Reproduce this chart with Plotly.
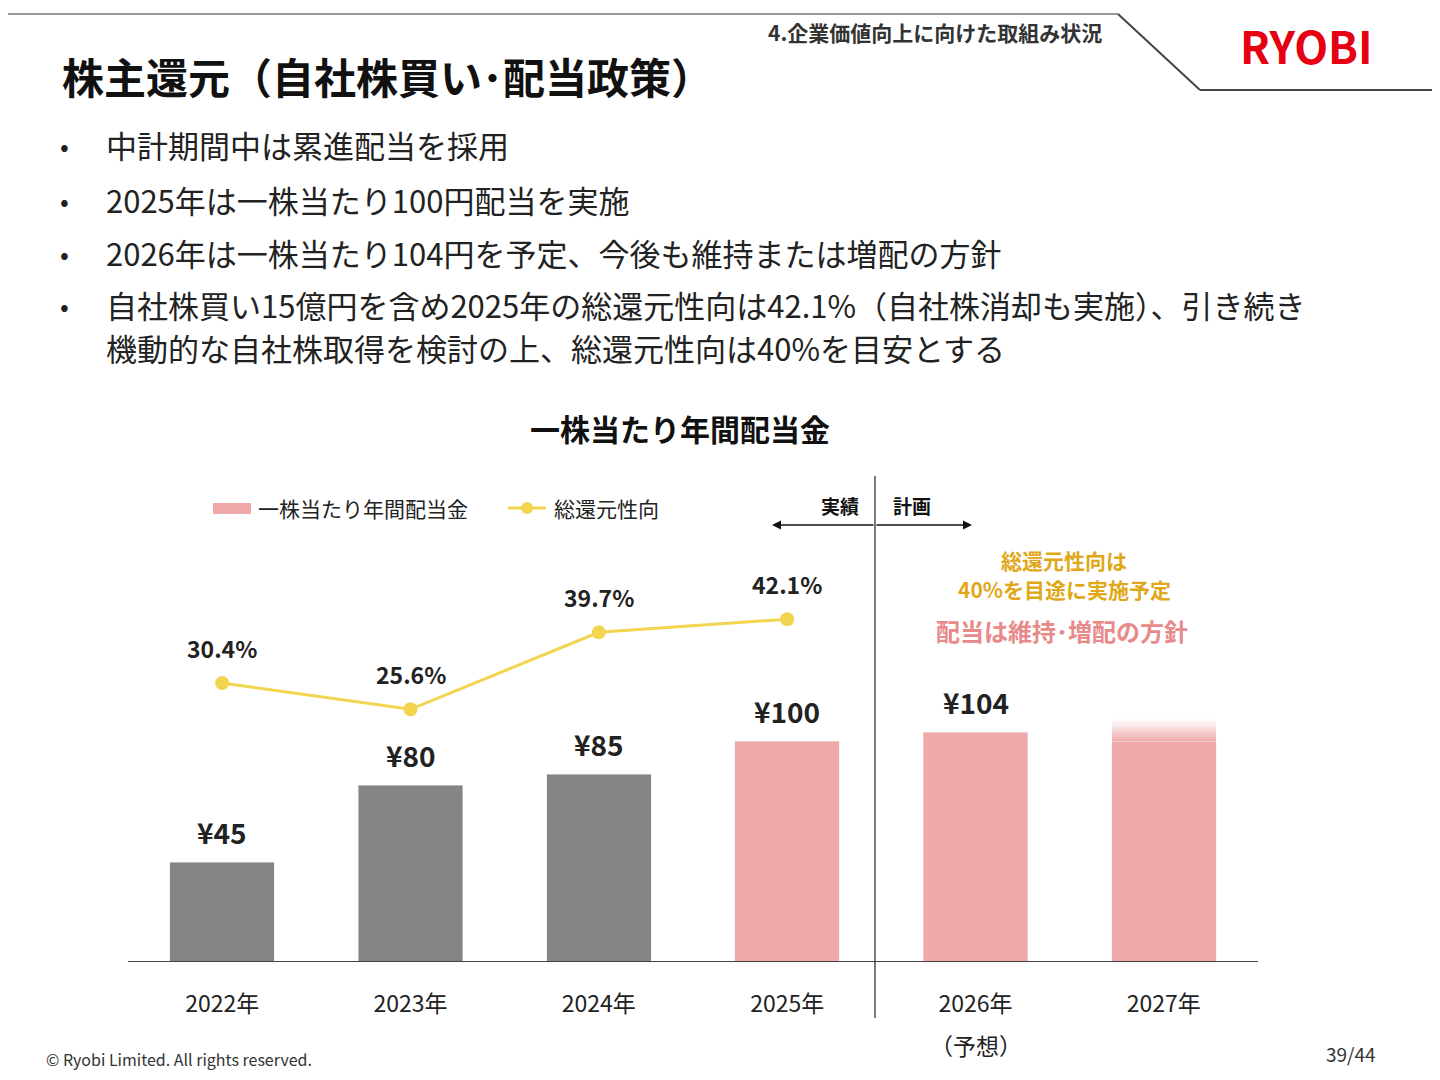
import plotly.graph_objects as go

years = ["2022年", "2023年", "2024年", "2025年", "2026年", "2027年"]
dividend = [45, 80, 85, 100, 104, None]
div_labels = ["¥45", "¥80", "¥85", "¥100", "¥104", ""]
payout_years = ["2022年", "2023年", "2024年", "2025年"]
payout = [30.4, 25.6, 39.7, 42.1]
fade_base = 100          # 2027 placeholder bar (solid part)
fade_steps = [1, 1, 1, 1, 1, 1, 1, 1, 1, 1]
fade_alpha = [0.9, 0.8, 0.7, 0.6, 0.5, 0.4, 0.3, 0.2, 0.12, 0.06]

GRAY = "#858585"
PINK = "#F0A8A8"
YEL = "#F2D44E"
FONT = "Noto Sans CJK JP"

OFF = 8
L, R, T, B = 128 - OFF, 1258 - OFF, 480 - OFF, 961 - OFF
W, H = R - L, B - T
def px(x): return (x - OFF - L) / W
def py(y): return (B - (y - OFF)) / H

fig = go.Figure()
colors = [GRAY, GRAY, GRAY, PINK, PINK, PINK]
fig.add_bar(x=years[:5], y=dividend[:5], marker_color=colors[:5], width=0.555, showlegend=False)
fig.add_bar(x=[years[5]], y=[fade_base], marker_color=PINK, width=0.555, showlegend=False)
for s, a in zip(fade_steps, fade_alpha):
    fig.add_bar(x=[years[5]], y=[s], marker_color=f"rgba(240,168,168,{a})", width=0.555,
                showlegend=False, marker_line_width=0)
fig.add_scatter(x=payout_years, y=payout, yaxis="y2", mode="lines+markers",
                line=dict(color=YEL, width=3), marker=dict(size=14, color=YEL), showlegend=False)

ann = []
for x, v, t in zip(years, dividend, div_labels):
    if v:
        ann.append(dict(x=x, y=v, text=f"<b>{t}</b>", showarrow=False, yshift=30,
                        font=dict(size=28, color="#222")))
for x, v in zip(payout_years, payout):
    ann.append(dict(x=x, y=v, yref="y2", text=f"<b>{v}%</b>", showarrow=False, yshift=35,
                    font=dict(size=23, color="#222")))

def A(x, y, text, size, color="#222", xanchor="center", bold=False):
    ann.append(dict(xref="paper", yref="paper", x=px(x), y=py(y), text=f"<b>{text}</b>" if bold else text,
                    showarrow=False, xanchor=xanchor, yanchor="middle", font=dict(size=size, color=color)))

A(60, 75, "株主還元（自社株買い･配当政策）", 42, "#111", "left", True)
A(935, 32, "4.企業価値向上に向けた取組み状況", 21, "#333", "center", True)
A(1306, 45, "RYOBI", 44, "#E60012", "center", True)
bul = [(145, "中計期間中は累進配当を採用"), (199, "2025年は一株当たり100円配当を実施"),
       (252, "2026年は一株当たり104円を予定、今後も維持または増配の方針"),
       (304, "自社株買い15億円を含め2025年の総還元性向は42.1%（自社株消却も実施）、引き続き")]
for y, t in bul:
    A(58, y, "•", 26, "#222", "left")
    A(104, y, t, 31, "#222", "left")
A(104, 347, "機動的な自社株取得を検討の上、総還元性向は40%を目安とする", 31, "#222", "left")
A(680, 428, "一株当たり年間配当金", 30, "#111", "center", True)
A(256, 508, "一株当たり年間配当金", 21, "#222", "left")
A(552, 508, "総還元性向", 21, "#222", "left")
A(840, 505, "実績", 19, "#111", "center", True)
A(912, 505, "計画", 19, "#111", "center", True)
A(1064, 560, "総還元性向は", 21, "#E0A818", "center", True)
A(1064, 589, "40%を目途に実施予定", 21, "#E0A818", "center", True)
A(1062, 630, "配当は維持･増配の方針", 24, "#E88A8A", "center", True)
A(976, 1045, "（予想）", 23, "#222", "center")
A(44, 1059, "© Ryobi Limited. All rights reserved.", 16, "#333", "left")
A(1378, 1053, "39/44", 19, "#333", "right")

for tip in [772, 972]:
    ann.append(dict(xref="paper", yref="paper", axref="pixel", ayref="pixel",
                    x=px(tip), y=py(525), ax=875 - tip, ay=0, showarrow=True,
                    arrowhead=2, arrowsize=1.2, arrowwidth=1.5, arrowcolor="#111", text=""))

shapes = [
    dict(type="line", xref="paper", yref="paper", x0=px(875), x1=px(875), y0=py(476), y1=py(1018),
         line=dict(color="#222", width=1.2)),
    dict(type="line", xref="paper", yref="paper", x0=px(0), x1=px(1118), y0=py(14), y1=py(14),
         line=dict(color="#999", width=2)),
    dict(type="line", xref="paper", yref="paper", x0=px(1118), x1=px(1200), y0=py(14), y1=py(90),
         line=dict(color="#444", width=2)),
    dict(type="line", xref="paper", yref="paper", x0=px(1200), x1=px(1440), y0=py(90), y1=py(90),
         line=dict(color="#444", width=2)),
    dict(type="rect", xref="paper", yref="paper", x0=px(213), x1=px(251), y0=py(503), y1=py(514),
         fillcolor=PINK, line_width=0),
    dict(type="line", xref="paper", yref="paper", x0=px(508), x1=px(546), y0=py(508), y1=py(508),
         line=dict(color=YEL, width=3)),
    dict(type="circle", xref="paper", yref="paper", x0=px(521), x1=px(533), y0=py(502), y1=py(514),
         fillcolor=YEL, line_width=0),
]

fig.update_layout(
    width=1440, height=1080, margin=dict(l=L, r=1440 - R, t=T, b=1080 - B),
    paper_bgcolor="white", plot_bgcolor="white", barmode="stack",
    font=dict(family=FONT, color="#222"),
    xaxis=dict(tickfont=dict(size=23), showline=True, linecolor="#444", linewidth=1.2,
               ticks="", ticklabelstandoff=22),
    yaxis=dict(range=[0, H / 2.2], visible=False),
    yaxis2=dict(range=[-20.5, 67.6], overlaying="y", visible=False),
    annotations=ann, shapes=shapes,
)
fig.write_html("out.html")
